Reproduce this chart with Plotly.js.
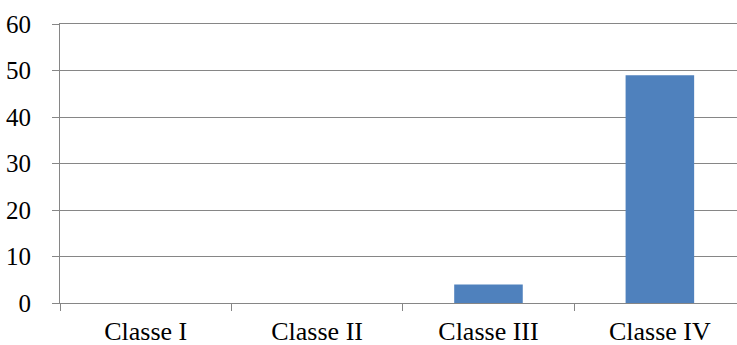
<!DOCTYPE html>
<html>
<head>
<meta charset="utf-8">
<script src="https://cdn.plot.ly/plotly-3.0.1.min.js"></script>
<style>
  html, body { margin: 0; padding: 0; background: #fff; }
  #chart { width: 737px; height: 345px; }
</style>
</head>
<body>
<div id="chart"></div>
<script>
// Count per class
const categories = ['Classe I', 'Classe II', 'Classe III', 'Classe IV'];
const counts = [0, 0, 4, 49];
const yTicks = [0, 10, 20, 30, 40, 50, 60];

const axisGray = '#868686';
const serif = '"Liberation Serif", "Times New Roman", serif';

const trace = {
  type: 'bar',
  x: categories,
  y: counts,
  marker: { color: '#4F81BD', line: { width: 0 } },
  hoverinfo: 'x+y'
};

const layout = {
  width: 737,
  height: 345,
  margin: { l: 60, r: 0, t: 24, b: 42, pad: 0 },
  paper_bgcolor: '#fff',
  plot_bgcolor: '#fff',
  bargap: 0.6,
  showlegend: false,
  xaxis: {
    type: 'category',
    range: [-0.5, 3.45],
    showgrid: false,
    showline: true,
    // the mirrored line closes the top of the plot, level with the 60 gridline
    mirror: true,
    linecolor: axisGray,
    linewidth: 1,
    ticks: 'outside',
    tickson: 'boundaries',
    ticklen: 7,
    tickcolor: axisGray,
    tickfont: { family: serif, size: 26, color: '#000' },
    ticklabelstandoff: 5,
    automargin: false,
    zeroline: false
  },
  yaxis: {
    range: [0, 60],
    tickvals: yTicks,
    ticktext: yTicks.map(String),
    showgrid: true,
    gridcolor: axisGray,
    gridwidth: 1,
    showline: true,
    linecolor: axisGray,
    linewidth: 1,
    ticks: 'outside',
    ticklen: 7,
    tickcolor: axisGray,
    tickfont: { family: serif, size: 25, color: '#000' },
    ticklabelstandoff: 16,
    zeroline: false,
    automargin: false
  }
};

Plotly.newPlot('chart', [trace], layout, { displayModeBar: false, staticPlot: true });
</script>
</body>
</html>
